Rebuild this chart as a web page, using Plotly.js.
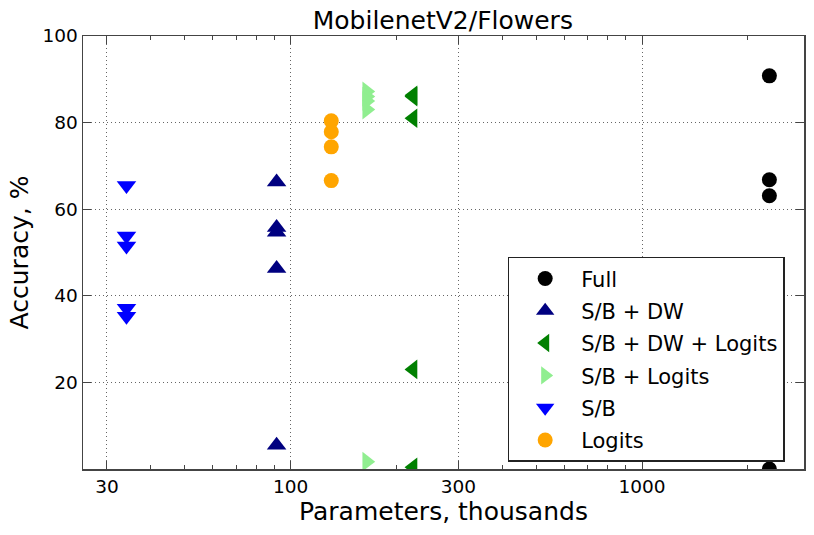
<!DOCTYPE html>
<html>
<head>
<meta charset="utf-8">
<script src="https://cdn.plot.ly/plotly-3.0.1.min.js"></script>
<style>
  html, body { margin: 0; padding: 0; background: #fff; }
  #chart { width: 814px; height: 535px; }
</style>
</head>
<body>
<div id="chart"></div>
<script>
// parameters (thousands) and accuracy (%) for each setting
var fullX = [2304, 2304, 2304, 2304];
var fullY = [90.8, 66.8, 63.1, 0.0];

var sbdwX = [91.2, 91.2, 91.2, 91.2, 91.2];
var sbdwY = [66.3, 55.8, 54.7, 46.3, 5.5];

var sbdwLogitsX = [223, 223, 223, 223, 223];
var sbdwLogitsY = [86.3, 86.0, 81.0, 23.0, 0.4];

var sbLogitsX = [164.6, 164.6, 164.6, 164.6, 164.6];
var sbLogitsY = [87.2, 86.0, 85.0, 83.0, 1.7];

var sbX = [34.1, 34.1, 34.1, 34.1, 34.1];
var sbY = [65.5, 53.8, 51.5, 37.1, 35.3];

var logitsX = [130.5, 130.5, 130.5, 130.5];
var logitsY = [80.4, 77.9, 74.4, 66.6];

var xTicks = [30, 100, 300, 1000];
var xMinor = [40, 50, 60, 70, 80, 90, 200, 400, 500, 600, 700, 800, 900, 2000];
var yTicks = [20, 40, 60, 80, 100];

var font = 'DejaVu Sans, Arial, sans-serif';

function series(name, x, y, symbol, color, size) {
  return {
    type: 'scatter', mode: 'markers', name: name, legendgroup: name,
    x: x, y: y, cliponaxis: true,
    marker: { symbol: symbol, color: color, size: size, line: { width: 0 } }
  };
}

var data = [
  series('Full', fullX, fullY, 'circle', '#000000', 15),
  series('S/B + DW', sbdwX, sbdwY, 'triangle-up', '#000080', 17),
  series('S/B + DW + Logits', sbdwLogitsX, sbdwLogitsY, 'triangle-left', '#008000', 17),
  series('S/B + Logits', sbLogitsX, sbLogitsY, 'triangle-right', '#90EE90', 17),
  series('S/B', sbX, sbY, 'triangle-down', '#0000FF', 17),
  series('Logits', logitsX, logitsY, 'circle', '#FFA500', 15)
];

var axisCommon = {
  showline: true, linecolor: '#444', linewidth: 1.5, mirror: 'ticks',
  ticks: 'inside', ticklen: 8, tickwidth: 1, tickcolor: '#444',
  showgrid: true, gridcolor: 'rgba(0,0,0,0.6)', griddash: '1px,3px', gridwidth: 1,
  zeroline: false,
  tickfont: { family: font, size: 18.5, color: '#000' }
};

var layout = {
  width: 814, height: 535,
  margin: { l: 83, r: 10, t: 36, b: 66 },
  paper_bgcolor: '#fff', plot_bgcolor: '#fff',
  font: { family: font, color: '#000' },
  title: {
    text: 'MobilenetV2/Flowers',
    font: { family: font, size: 25, color: '#000' },
    x: 0.544, xanchor: 'center', y: 0.962, yanchor: 'middle'
  },
  xaxis: Object.assign({}, axisCommon, {
    type: 'log',
    range: [1.409, 3.461],
    tickmode: 'array', tickvals: xTicks, ticktext: xTicks.map(String),
    minor: { tickmode: 'array', tickvals: xMinor, ticks: 'inside', ticklen: 4, tickcolor: '#444', showgrid: false },
    title: { text: 'Parameters, thousands', font: { family: font, size: 25, color: '#000' }, standoff: 6 }
  }),
  yaxis: Object.assign({}, axisCommon, {
    range: [0, 100],
    tickmode: 'array', tickvals: yTicks,
    title: { text: 'Accuracy, %', font: { family: font, size: 25, color: '#000' }, standoff: 6 }
  }),
  showlegend: true,
  legend: {
    x: 0.589, xanchor: 'left', y: 0.49, yanchor: 'top',
    bgcolor: '#fff', bordercolor: '#222', borderwidth: 1.5,
    font: { family: font, size: 21, color: '#000' },
    traceorder: 'grouped', tracegroupgap: 2, itemsizing: 'trace',
    itemwidth: 62
  }
};

Plotly.newPlot('chart', data, layout, { displayModeBar: false, staticPlot: true });
</script>
</body>
</html>
